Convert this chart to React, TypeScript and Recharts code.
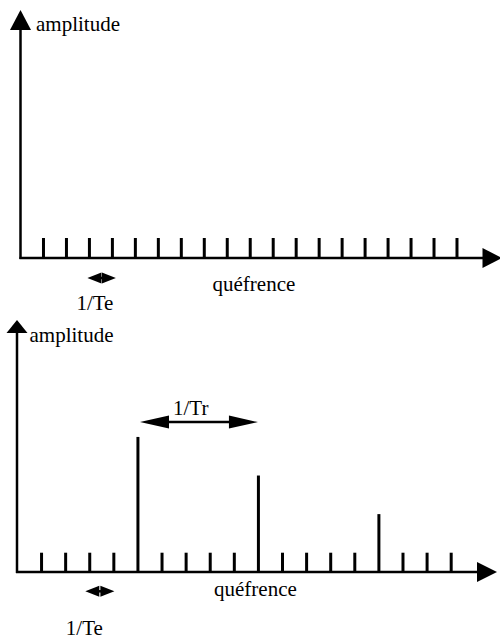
import { ComposedChart, Bar, XAxis, YAxis, ReferenceLine } from 'recharts';

// quefrency index of every sample (top: plain comb, bottom: comb + pitch peaks)
const topPositions = [1, 2, 3, 4, 5, 6, 7, 8, 9, 10, 11, 12, 13, 14, 15, 16, 17, 18, 19];
const topAmplitudes = [1, 1, 1, 1, 1, 1, 1, 1, 1, 1, 1, 1, 1, 1, 1, 1, 1, 1, 1];

const bottomPositions = [1, 2, 3, 4, 5, 6, 7, 8, 9, 10, 11, 12, 13, 14, 15, 16, 17, 18];
const bottomAmplitudes = [1, 1, 1, 1, 7, 1, 1, 1, 1, 5, 1, 1, 1, 1, 3, 1, 1, 1];

// annotation spans, in quefrency index
const teSpan = [3, 4];
const trSpan = [5, 10];

const yLabel = 'amplitude';
const xLabel = 'quéfrence';
const teLabel = '1/Te';
const trLabel = '1/Tr';

const FONT = '"Liberation Serif", "Times New Roman", serif';
const INK = '#000';
const SW = 2.5;

const txt = (x: number, y: number, s: string, anchor: 'start' | 'middle' = 'start') => (
  <text x={x} y={y} fontFamily={FONT} fontSize={21} fill={INK} textAnchor={anchor}>
    {s}
  </text>
);

// horizontal axis with arrow head + label under it
const xAxisShape = (headLen: number, headHalf: number, ldx: number, ldy: number) => (p: any) => {
  const { x1, y1, x2, y2 } = p;
  return (
    <g>
      <line x1={x1 - 1} y1={y1} x2={x2 - headLen + 1} y2={y2} stroke={INK} strokeWidth={SW} />
      <polygon points={`${x2},${y2} ${x2 - headLen},${y2 - headHalf} ${x2 - headLen},${y2 + headHalf}`} fill={INK} />
      {txt(x1 + ldx, y1 + ldy, xLabel)}
    </g>
  );
};

// vertical axis with arrow head + label on its right
const yAxisShape = (headLen: number, headHalf: number, ldx: number, ldy: number) => (p: any) => {
  const { x1, y1, x2, y2 } = p;
  return (
    <g>
      <line x1={x1} y1={y1 + 1} x2={x2} y2={y2 + headLen - 1} stroke={INK} strokeWidth={SW} />
      <polygon points={`${x2},${y2} ${x2 - headHalf},${y2 + headLen} ${x2 + headHalf},${y2 + headLen}`} fill={INK} />
      {txt(x2 + ldx, y2 + ldy, yLabel)}
    </g>
  );
};

// double headed arrow with a label
const doubleArrow = (
  headLen: number,
  headHalf: number,
  padL: number,
  padR: number,
  label: string,
  ldx: number,
  ldy: number
) => (p: any) => {
  const { x1, y1, x2 } = p;
  const l = x1 - padL;
  const r = x2 + padR;
  const mid = (x1 + x2) / 2;
  return (
    <g>
      <line x1={l + headLen - 1} y1={y1} x2={r - headLen + 1} y2={y1} stroke={INK} strokeWidth={SW} />
      <polygon points={`${l},${y1} ${l + headLen},${y1 - headHalf} ${l + headLen},${y1 + headHalf}`} fill={INK} />
      <polygon points={`${r},${y1} ${r - headLen},${y1 - headHalf} ${r - headLen},${y1 + headHalf}`} fill={INK} />
      {txt(mid + ldx, y1 + ldy, label, 'middle')}
    </g>
  );
};

const topData = topPositions.map((x, i) => ({ x, amp: topAmplitudes[i] }));
const bottomData = bottomPositions.map((x, i) => ({ x, amp: bottomAmplitudes[i] }));

const TOP_X_MAX = 20.96;
const TOP_Y_MAX = 12.4;
const BOT_X_MAX = 19.92;
const BOT_Y_MAX = 13.06;

export default function App() {
  return (
    <div style={{ position: 'absolute', left: 0, top: 0, width: 500, height: 639, background: '#fff' }}>
      <div style={{ position: 'absolute', left: 0, top: 0 }}>
        <ComposedChart
          width={500}
          height={315}
          data={topData}
          margin={{ top: 10, right: -2, bottom: 57, left: 20.5 }}
        >
          <XAxis dataKey="x" type="number" domain={[0, TOP_X_MAX]} allowDataOverflow hide />
          <YAxis type="number" domain={[0, TOP_Y_MAX]} allowDataOverflow hide />
          <Bar dataKey="amp" fill={INK} barSize={3} isAnimationActive={false} />
          <ReferenceLine
            segment={[{ x: 0, y: 0 }, { x: TOP_X_MAX, y: 0 }]}
            ifOverflow="visible"
            shape={xAxisShape(19.5, 10, 192, 33)}
          />
          <ReferenceLine
            segment={[{ x: 0, y: 0 }, { x: 0, y: TOP_Y_MAX }]}
            ifOverflow="visible"
            shape={yAxisShape(20, 10.5, 15.5, 21)}
          />
          <ReferenceLine
            segment={[{ x: teSpan[0], y: -1 }, { x: teSpan[1], y: -1 }]}
            ifOverflow="visible"
            shape={doubleArrow(14, 5.5, 2, 3.5, teLabel, -6, 32)}
          />
        </ComposedChart>
      </div>
      <div style={{ position: 'absolute', left: 0, top: 315 }}>
        <ComposedChart
          width={500}
          height={324}
          data={bottomData}
          margin={{ top: 5, right: 3, bottom: 67, left: 17 }}
        >
          <XAxis dataKey="x" type="number" domain={[0, BOT_X_MAX]} allowDataOverflow hide />
          <YAxis type="number" domain={[0, BOT_Y_MAX]} allowDataOverflow hide />
          <Bar dataKey="amp" fill={INK} barSize={3} isAnimationActive={false} />
          <ReferenceLine
            segment={[{ x: 0, y: 0 }, { x: BOT_X_MAX, y: 0 }]}
            ifOverflow="visible"
            shape={xAxisShape(20, 10, 197, 24)}
          />
          <ReferenceLine
            segment={[{ x: 0, y: 0 }, { x: 0, y: BOT_Y_MAX }]}
            ifOverflow="visible"
            shape={yAxisShape(13, 10.5, 12.5, 21.5)}
          />
          <ReferenceLine
            segment={[{ x: teSpan[0], y: -1 }, { x: teSpan[1], y: -1 }]}
            ifOverflow="visible"
            shape={doubleArrow(14, 5.5, 4, 1, teLabel, -17, 44)}
          />
          <ReferenceLine
            segment={[{ x: trSpan[0], y: 7.77 }, { x: trSpan[1], y: 7.77 }]}
            ifOverflow="visible"
            shape={doubleArrow(29, 6.5, -2.5, 0, trLabel, -7, -7)}
          />
        </ComposedChart>
      </div>
    </div>
  );
}
